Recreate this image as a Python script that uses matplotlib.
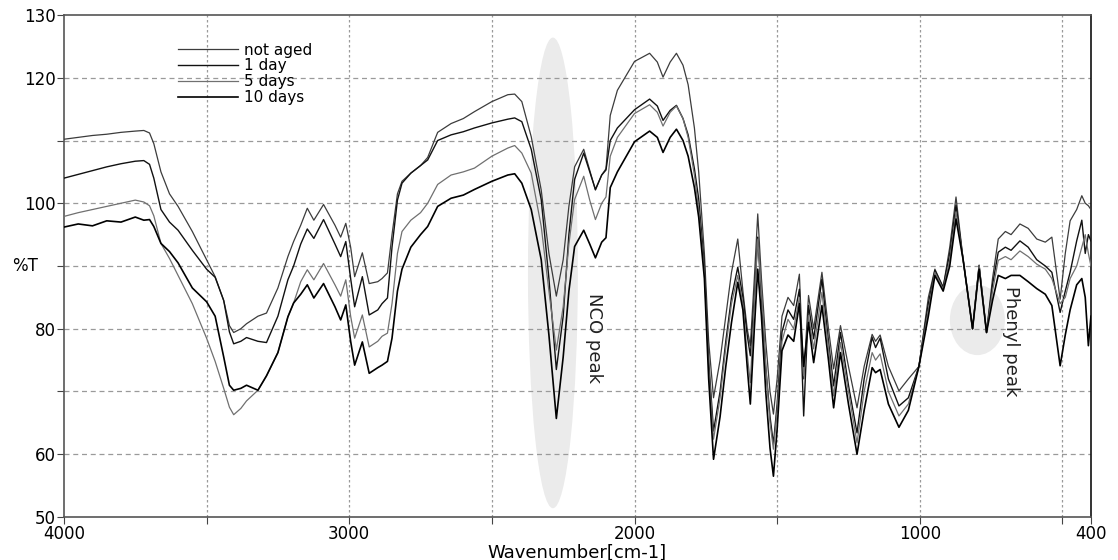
import numpy as np
import matplotlib
matplotlib.use("Agg")
import matplotlib.pyplot as plt
from matplotlib.patches import Ellipse

# wavenumber grid (cm-1) and %T
WN = [4000, 3950, 3900, 3850, 3800, 3750, 3720, 3700, 3685, 3660,
      3630, 3600, 3550, 3500, 3470, 3440, 3420, 3405, 3380, 3360,
      3320, 3290, 3250, 3215, 3195, 3170, 3147, 3124, 3090, 3050,
      3030, 3012, 2995, 2981, 2954, 2930, 2900, 2885, 2866, 2850,
      2831, 2815, 2784, 2750, 2725, 2690, 2643, 2600, 2561, 2500,
      2444, 2420, 2395, 2362, 2327, 2300, 2274, 2250, 2230, 2210,
      2178, 2157, 2137, 2115, 2100, 2085, 2060, 2000, 1947, 1920,
      1900, 1875, 1853, 1830, 1812, 1790, 1775, 1755, 1740, 1723,
      1700, 1680, 1660, 1638, 1620, 1605, 1594, 1580, 1568, 1555,
      1540, 1525, 1513, 1500, 1483, 1462, 1442, 1422, 1407, 1390,
      1372, 1343, 1320, 1302, 1278, 1250, 1220, 1195, 1167, 1155,
      1139, 1110, 1073, 1040, 1003, 970, 947, 918, 895, 873,
      848, 815, 792, 766, 745, 725, 700, 680, 649, 620,
      590, 560, 537, 508, 490, 473, 450, 432, 420, 409,
      400]

NOT_AGED = [110.2, 110.5, 110.8, 111.0, 111.3, 111.5, 111.6, 111.2, 109.5, 105.0,
            101.5, 99.5, 95.5, 91.0, 88.3, 84.5, 80.5, 79.4, 80.0, 80.8,
            82.0, 82.5, 86.5, 91.5, 93.9, 96.5, 99.2, 97.3, 99.8, 96.5,
            94.6, 96.8, 93.0, 88.3, 92.1, 87.2, 87.5, 88.0, 88.9, 95.0,
            101.5, 103.5, 104.8, 106.0, 107.3, 111.3, 112.7, 113.5, 114.6, 116.2,
            117.3, 117.4, 116.2, 110.6, 102.1, 92.0, 85.2, 91.0, 99.5, 105.8,
            108.6, 105.3, 102.1, 104.5, 105.5, 114.0, 118.0, 122.6, 123.9, 122.5,
            120.1, 122.5, 123.9, 122.0, 118.9, 112.0, 105.0, 92.0, 78.0, 69.0,
            75.0, 82.0, 89.0, 94.3, 86.0, 80.0, 77.3, 88.0, 98.3, 88.0,
            78.0, 70.0, 66.4, 72.0, 82.0, 85.0, 83.7, 88.7, 72.0, 85.3,
            80.0, 89.0, 80.0, 73.6, 80.5, 74.0, 67.4, 74.0, 79.1, 78.0,
            79.0, 74.0, 70.1, 72.0, 74.0, 85.0, 89.5, 86.6, 93.0, 101.0,
            91.0, 80.0, 90.1, 79.4, 88.0, 94.3, 95.5, 95.0, 96.7, 96.0,
            94.3, 93.8, 94.6, 84.7, 92.0, 97.2, 99.0, 101.2, 100.0, 99.6,
            99.0]

DAY_1 = [104.0, 104.6, 105.2, 105.8, 106.3, 106.7, 106.8, 106.2, 104.0, 99.0,
         97.0, 95.7, 92.5, 89.5, 88.2, 84.5, 79.5, 77.6, 78.0, 78.6,
         78.0, 77.8, 82.0, 87.8, 90.0, 93.5, 95.9, 94.4, 97.4, 93.5,
         91.5, 93.9, 88.0, 83.5, 88.3, 82.2, 83.0, 84.0, 84.9, 93.0,
         100.5, 103.2, 104.8, 106.0, 106.9, 110.0, 110.9, 111.4, 112.0, 112.8,
         113.4, 113.6, 113.0, 108.6, 100.6, 88.0, 73.5, 82.0, 95.0, 103.8,
         108.0, 105.0, 102.2, 104.5, 105.3, 110.0, 112.0, 114.9, 116.6, 115.5,
         113.2, 114.8, 115.6, 113.5, 110.9, 105.5, 100.7, 90.0, 75.0, 63.7,
         70.0, 78.0, 85.0, 89.8, 85.0, 79.0, 75.7, 85.0, 94.6, 85.0,
         74.0, 66.0, 61.6, 68.0, 79.5, 83.0, 81.5, 86.3, 66.1, 83.7,
         78.4, 87.9, 78.0, 70.9, 79.4, 71.0, 63.4, 72.0, 78.6, 77.0,
         78.5, 72.0, 67.7, 69.0, 74.0, 84.0, 89.3, 86.6, 92.0, 99.7,
         91.0, 80.0, 90.1, 79.4, 87.0, 92.2, 93.0, 92.5, 94.0, 93.0,
         91.0, 90.0, 89.0, 82.6, 86.0, 89.0, 94.0, 97.3, 92.0, 95.0,
         94.0]

DAYS_5 = [97.9, 98.5, 99.0, 99.5, 100.0, 100.5, 100.2, 99.6, 98.0, 93.6,
          91.2, 88.5, 84.0, 78.5, 74.8, 70.5, 67.5, 66.3, 67.3, 68.5,
          70.2, 72.5, 76.2, 81.9, 84.1, 87.5, 89.4, 87.8, 90.4, 87.0,
          85.2, 87.8, 82.0, 78.5, 82.2, 77.1, 78.0, 78.8, 79.3, 84.0,
          92.0, 95.5, 97.3, 98.5, 100.0, 103.0, 104.5, 105.0, 105.6, 107.5,
          108.8, 109.2, 108.0, 104.8, 96.3, 86.0, 76.6, 83.5, 93.5, 100.6,
          104.3, 100.5, 97.4, 100.0, 101.0, 107.5, 110.5, 114.3, 115.7, 114.5,
          112.3, 114.5, 115.5, 113.5, 110.5, 104.5, 99.0, 89.0, 74.0, 62.4,
          69.0, 77.0, 84.0, 88.5, 84.0, 76.0, 71.4, 84.0, 94.3, 86.0,
          74.0, 65.0, 60.8, 67.0, 78.0, 81.5, 80.0, 85.0, 72.5, 82.1,
          76.8, 85.8, 77.0, 69.3, 77.8, 70.0, 61.8, 70.0, 76.2, 75.0,
          76.0, 70.0, 66.1, 68.0, 74.0, 83.0, 89.0, 86.3, 91.0, 98.6,
          91.0, 80.0, 90.1, 79.4, 86.0, 90.9, 91.5, 91.0, 92.4, 91.5,
          90.3, 89.5, 88.0, 84.0, 85.0, 88.0, 90.0, 93.0, 95.0, 92.0,
          90.0]

DAYS_10 = [96.2, 96.7, 96.4, 97.2, 97.0, 97.8, 97.3, 97.4, 96.3, 93.6,
           92.3, 90.5, 86.5, 84.3, 82.0, 75.5, 71.0, 70.2, 70.5, 71.0,
           70.2, 72.5, 76.2, 81.9, 84.1, 85.5, 87.0, 84.9, 87.2, 83.5,
           81.4, 83.8, 78.0, 74.2, 77.9, 72.9, 73.8, 74.2, 74.8, 78.5,
           86.0, 89.5, 93.0, 95.0, 96.3, 99.5, 100.8, 101.3, 102.2, 103.5,
           104.5, 104.7, 103.2, 99.0, 91.0, 79.0, 65.7, 75.5, 86.0, 93.1,
           95.7, 93.5, 91.3, 93.8, 94.5, 102.5, 105.0, 109.8, 111.5, 110.5,
           108.1, 110.5, 111.8, 110.0, 107.5, 102.5, 97.8, 88.0, 72.0, 59.2,
           66.0, 74.0, 81.0, 87.4, 83.0, 74.0, 68.0, 80.0, 89.5, 82.0,
           70.0, 61.0, 56.5, 64.0, 76.5, 79.0, 78.0, 84.0, 74.0, 81.0,
           74.6, 83.7, 75.0, 67.4, 76.2, 68.0, 60.0, 67.0, 73.8, 73.0,
           73.5, 68.0, 64.3, 67.0, 74.0, 82.0, 88.5, 86.0, 90.0, 97.5,
           91.0, 80.0, 89.5, 79.4, 84.5, 88.5, 88.0, 88.5, 88.5, 87.5,
           86.4, 85.5, 83.7, 74.1, 79.0, 83.0, 87.0, 88.0, 85.0, 77.3,
           82.0]

LABELS = ["not aged", "1 day", "5 days", "10 days"]
COLORS = ["#3c3c3c", "#111111", "#707070", "#000000"]
WIDTHS = [0.9, 1.0, 0.9, 1.2]

plt.rcParams["font.family"] = "DejaVu Sans"

fig = plt.figure(figsize=(11.18, 5.6), dpi=100)
ax = fig.add_axes([0.0572, 0.0768, 0.9186, 0.8964])

# shaded highlight regions
ax.add_patch(Ellipse((2286, 88.9), 175, 75, facecolor="#ebebeb",
                     edgecolor="none", zorder=1))
ax.add_patch(Ellipse((798, 81.4), 193, 11.2, facecolor="#ebebeb",
                     edgecolor="none", zorder=1))

for ys, lab, c, lw in zip([NOT_AGED, DAY_1, DAYS_5, DAYS_10], LABELS, COLORS, WIDTHS):
    ax.plot(WN, ys, color=c, lw=lw, label=lab, zorder=3)

ax.text(2142, 78.5, "NCO peak", rotation=-90, ha="center", va="center",
        fontsize=13, color="#222222", zorder=4)
ax.text(681, 78.0, "Phenyl peak", rotation=-90, ha="center", va="center",
        fontsize=13, color="#222222", zorder=4)

ax.set_xlim(4000, 400)
ax.set_ylim(50, 130)
ax.set_xticks([4000, 3500, 3000, 2500, 2000, 1500, 1000, 500, 400])
ax.set_xticklabels(["4000", "", "3000", "", "2000", "", "1000", "", "400"])
ax.set_yticks([50, 60, 70, 80, 90, 100, 110, 120, 130])
ax.set_yticklabels(["50", "60", "", "80", "", "100", "", "120", "130"])
ax.tick_params(axis="both", labelsize=12, length=5, color="#444444", pad=1)

for y in range(60, 130, 10):
    ax.axhline(y, color="#9a9a9a", lw=0.9, ls=(0, (4, 3)), zorder=2)
for x in [3500, 3000, 2500, 2000, 1500, 1000, 500]:
    ax.axvline(x, color="#9a9a9a", lw=0.9, ls=(0, (2, 2)), zorder=2)

for s in ax.spines.values():
    s.set_color("#555555")
    s.set_linewidth(1.2)
ax.spines["right"].set_color("#111111")

ax.set_xlabel("Wavenumber[cm-1]", fontsize=13, labelpad=0)
ax.set_ylabel("%T", fontsize=12, rotation=0, va="center", ha="center")
ax.yaxis.set_label_coords(-0.038, 0.5)

ax.legend(loc="upper left", bbox_to_anchor=(0.111, 0.945), frameon=False,
          fontsize=11, handlelength=3.9, handletextpad=0.4,
          labelspacing=0.05, borderpad=0, borderaxespad=0)

fig.savefig("out.png", dpi=100)
